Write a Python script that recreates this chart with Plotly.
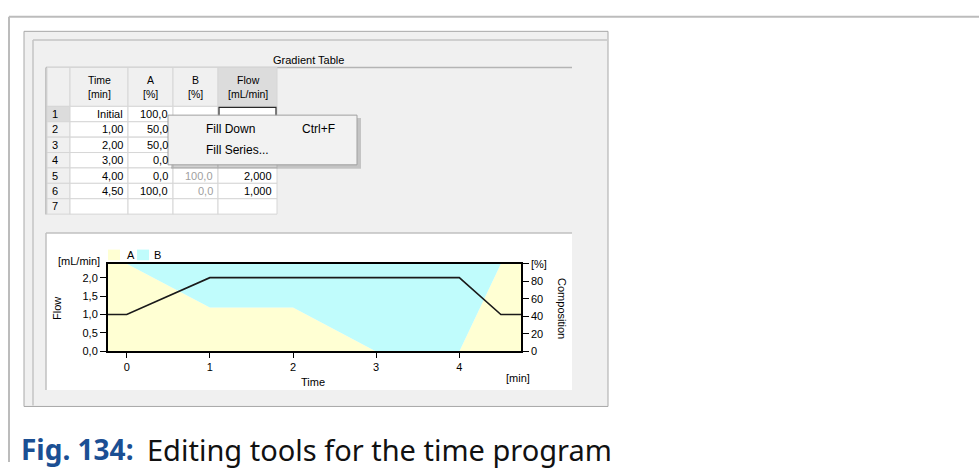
import plotly.graph_objects as go

# ---- data (gradient table) ----
TIME = [0.0, 1.0, 2.0, 3.0, 4.0, 4.5]
TIME_LABELS = ["Initial", "1,00", "2,00", "3,00", "4,00", "4,50"]
COMP_A = [100.0, 50.0, 50.0, 0.0, 0.0, 100.0]
COMP_B = [0.0, 50.0, 50.0, 100.0, 100.0, 0.0]
FLOW = [1.0, 2.0, 2.0, 2.0, 2.0, 1.0]

FLOW_TICKS = [0.0, 0.5, 1.0, 1.5, 2.0]
COMP_TICKS = [0, 20, 40, 60, 80, 100]
COMP_TICKTEXT = ["0", "20", "40", "60", "80", "[%]"]
TIME_TICKS = [0, 1, 2, 3, 4]

W, H = 979, 468
UI_FONT = "Liberation Sans, Arial, sans-serif"
CAPTION_FONT = "Noto Sans, sans-serif"

# axis windows, in data units
X_RANGE = [-0.225, 4.742]
FLOW_RANGE = [0, 2.378]
COMP_RANGE = [0, 100]


def px(x):
    return x / W


def py(y):
    return 1 - y / H


def rect(x0, y0, x1, y1, fill=None, line=None, lw=1, layer="below"):
    d = dict(type="rect", xref="paper", yref="paper",
             x0=px(x0), x1=px(x1), y0=py(y0), y1=py(y1), layer=layer,
             line=dict(width=lw if line else 0, color=line or "rgba(0,0,0,0)"))
    if fill:
        d["fillcolor"] = fill
    return d


def seg(x0, y0, x1, y1, color, lw=1, layer="below"):
    return dict(type="line", xref="paper", yref="paper",
                x0=px(x0), x1=px(x1), y0=py(y0), y1=py(y1), layer=layer,
                line=dict(width=lw, color=color))


def txt(x, y, s, size=11, color="#000", xanchor="center", font=UI_FONT, **kw):
    return dict(x=px(x), y=py(y), xref="paper", yref="paper", text=s,
                showarrow=False, xanchor=xanchor, yanchor="middle",
                font=dict(size=size, color=color, family=font), **kw)


def comma(v, nd):
    return f"{v:.{nd}f}".replace(".", ",")


# extend the program to the edges of the time axis
xs = [X_RANGE[0]] + TIME + [X_RANGE[1]]
a_ext = [COMP_A[0]] + COMP_A + [COMP_A[-1]]
b_ext = [COMP_B[0]] + COMP_B + [COMP_B[-1]]
f_ext = [FLOW[0]] + FLOW + [FLOW[-1]]

fig = go.Figure()
fig.add_trace(go.Scatter(x=xs, y=a_ext, stackgroup="comp", mode="lines",
                         line=dict(width=0), fillcolor="#ffffd3",
                         hoverinfo="skip", showlegend=False, yaxis="y"))
fig.add_trace(go.Scatter(x=xs, y=b_ext, stackgroup="comp", mode="lines",
                         line=dict(width=0), fillcolor="#c0fcfc",
                         hoverinfo="skip", showlegend=False, yaxis="y"))
fig.add_trace(go.Scatter(x=xs, y=f_ext, mode="lines",
                         line=dict(width=1.6, color="#1a1a1a"),
                         hoverinfo="skip", showlegend=False, yaxis="y2"))

shapes = []
ann = []

# page frame
shapes.append(seg(9, 11, 979, 11, "#bcbcbc", 2))
shapes.append(seg(9, 11, 9, 468, "#bcbcbc", 2))

# dialog and group box
shapes.append(rect(24, 26, 608, 411, fill="#f0f0f0", line="#a8a8a8"))
shapes.append(seg(33, 35, 607, 35, "#c4c4c4", 1.5))
shapes.append(seg(33, 35, 33, 410, "#c4c4c4", 1.5))
ann.append(txt(308, 55, "Gradient Table"))

# table area
shapes.append(seg(46, 63, 572, 63, "#b4b4b4", 1.5))
shapes.append(seg(46, 63, 46, 214, "#b4b4b4", 1.5))

col_x = [47, 70, 128, 173, 218, 277]
head_y0, head_y1 = 63, 103
row_h = 15.8
headers = ["", "Time<br>[min]", "A<br>[%]", "B<br>[%]", "Flow<br>[mL/min]"]
for i, h in enumerate(headers):
    fill = "#dcdcdc" if i == 4 else "#f0f0f0"
    shapes.append(rect(col_x[i], head_y0, col_x[i + 1], head_y1, fill=fill, line="#d6d6d6"))
    if h:
        ann.append(txt((col_x[i] + col_x[i + 1]) / 2, 83, h, size=10.5))

n_rows = 7
for r in range(n_rows):
    y0 = head_y1 + r * row_h
    y1 = y0 + row_h
    yc = (y0 + y1) / 2
    shapes.append(rect(col_x[0], y0, col_x[1], y1,
                       fill="#dcdcdc" if r == 0 else "#f0f0f0", line="#d6d6d6"))
    ann.append(txt(50, yc, str(r + 1), xanchor="left"))
    for c in range(1, 5):
        shapes.append(rect(col_x[c], y0, col_x[c + 1], y1, fill="#ffffff", line="#d6d6d6"))
    if r < len(TIME):
        ann.append(txt(col_x[2] - 3, yc, TIME_LABELS[r], xanchor="right"))
        ann.append(txt(col_x[3] - 3, yc, comma(COMP_A[r], 1), xanchor="right"))
        if r >= 4:  # rows 1-4 of B and Flow sit under the context menu
            ann.append(txt(col_x[4] - 3, yc, comma(COMP_B[r], 1), xanchor="right", color="#a0a0a0"))
            ann.append(txt(col_x[5] - 3, yc, comma(FLOW[r], 3), xanchor="right"))

# selected flow cell
shapes.append(rect(col_x[4] + 1, head_y1 + 1, col_x[5] - 1, head_y1 + row_h, line="#2a2a2a", lw=1.2))

# context menu
shapes.append(rect(171, 115, 361, 167, fill="rgba(0,0,0,0.18)"))
shapes.append(rect(168, 112, 357, 163, fill="#f2f2f2", line="#a0a0a0"))
ann.append(txt(204, 126, "Fill Down", size=12, xanchor="left"))
ann.append(txt(300, 126, "Ctrl+F", size=12, xanchor="left"))
ann.append(txt(204, 148, "Fill Series...", size=12, xanchor="left"))

# chart panel
shapes.append(rect(46, 233, 572, 394, fill="#ffffff"))
shapes.append(seg(46, 233, 572, 233, "#c0c0c0", 1.5))
shapes.append(seg(46, 233, 46, 394, "#c0c0c0", 1.5))

# chart legend and axis captions
shapes.append(rect(108, 250, 120, 261, fill="#ffffd3"))
ann.append(txt(125, 256, "A", xanchor="left"))
shapes.append(rect(137, 250, 149, 261, fill="#c0fcfc"))
ann.append(txt(152, 256, "B", xanchor="left"))
ann.append(txt(79, 262, "[mL/min]"))
ann.append(txt(57, 311, "Flow", textangle=-90))
ann.append(txt(313, 386, "Time"))
ann.append(txt(518, 382, "[min]"))
ann.append(txt(562, 310, "Composition", textangle=90))

# caption
ann.append(txt(19, 455, "<b>Fig. 134:</b>", size=28, color="#1b4f93", xanchor="left", font=CAPTION_FONT))
ann.append(txt(145, 455, "Editing tools for the time program", size=29, color="#111111",
               xanchor="left", font=CAPTION_FONT))

axis_font = dict(family=UI_FONT, size=11, color="#000")
fig.update_layout(
    width=W, height=H,
    margin=dict(l=0, r=0, t=0, b=0),
    paper_bgcolor="#ffffff",
    plot_bgcolor="rgba(0,0,0,0)",
    separators=",.",
    showlegend=False,
    shapes=shapes,
    annotations=ann,
    xaxis=dict(domain=[px(108), px(521)], range=X_RANGE, tickvals=TIME_TICKS,
               showgrid=False, zeroline=False, showline=True, mirror=True,
               linecolor="#000", linewidth=1.5, ticks="outside", ticklen=5,
               tickcolor="#000", tickfont=axis_font),
    yaxis=dict(domain=[py(354.5), py(264.5)], range=COMP_RANGE, side="right",
               tickvals=COMP_TICKS, ticktext=COMP_TICKTEXT,
               showgrid=False, zeroline=False, showline=True, mirror=True,
               linecolor="#000", linewidth=1.5, ticks="outside", ticklen=6,
               tickcolor="#000", tickfont=axis_font),
    yaxis2=dict(overlaying="y", side="left", range=FLOW_RANGE,
                tickvals=FLOW_TICKS, tickformat=".1f",
                showgrid=False, zeroline=False, showline=False,
                ticks="outside", ticklen=7, tickcolor="#000", tickfont=axis_font),
)

# the page's default body margin would push the figure off its frame
fig.write_html("out.html", config={"displayModeBar": False},
               post_script="document.body.style.margin='0';")
